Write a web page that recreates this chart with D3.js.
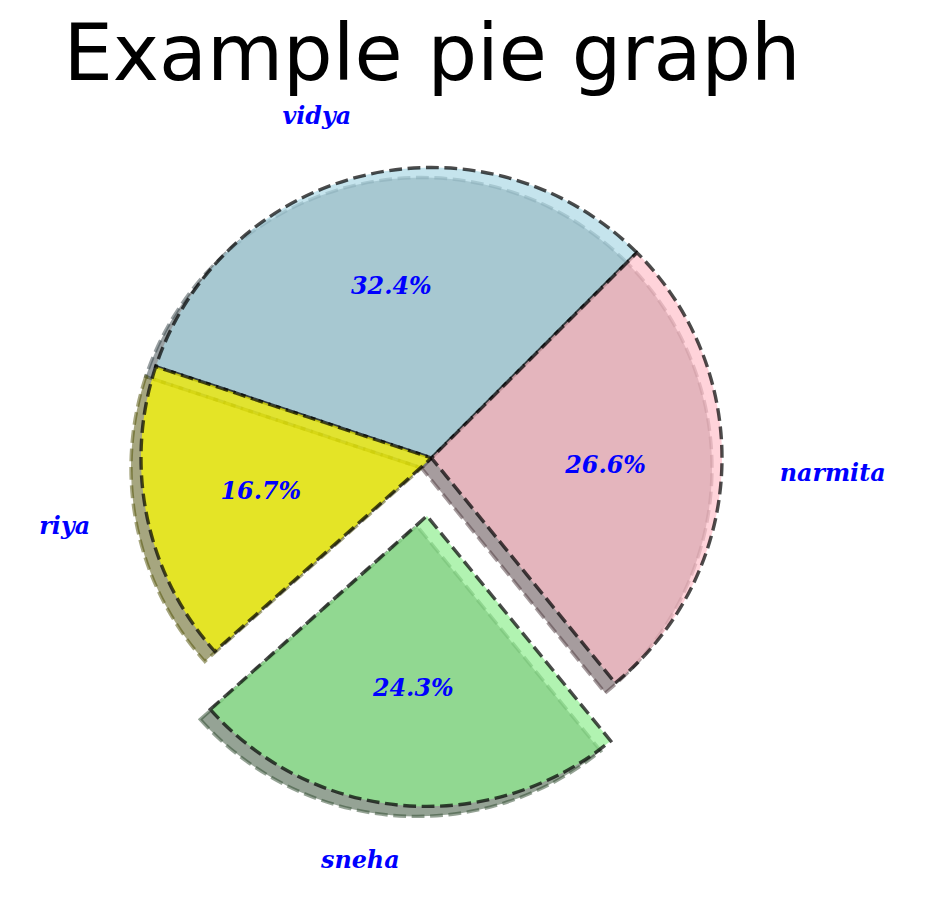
<!DOCTYPE html>
<html>
<head>
<meta charset="utf-8">
<script src="https://cdn.jsdelivr.net/npm/d3@7"></script>
<style>
  html, body { margin: 0; padding: 0; background: #ffffff; }
  svg { display: block; }
</style>
</head>
<body>
<svg id="chart" width="937" height="909"></svg>
<script>
// ---- data ----
const title = "Example pie graph";
const labels = ["vidya", "riya", "sneha", "narmita"];
const values = [32.4, 16.7, 24.3, 26.6];
const colors = ["lightblue", "yellow", "lightgreen", "pink"];
const explode = [0, 0, 0.2, 0];

// ---- layout ----
const W = 937, H = 909;
const cx = 431.5, cy = 458, R = 290.5;
const labelDistance = 1.2, pctDistance = 0.6;
const shadowDx = -10, shadowDy = 10;
const lw = 3.4;
const dash = "12.8,5.6";

const svg = d3.select("#chart");
svg.append("rect").attr("width", W).attr("height", H).attr("fill", "#fff");

const data = labels.map((l, i) => ({ label: l, value: values[i], color: colors[i], explode: explode[i] }));
const total = d3.sum(values);

const pie = d3.pie().sort(null).value(d => d.value)
  .startAngle(Math.PI / 4).endAngle(Math.PI / 4 - 2 * Math.PI);
const arcs = pie(data);
const arc = d3.arc().innerRadius(0).outerRadius(R);

function offset(d, dist) {
  const m = (d.startAngle + d.endAngle) / 2;
  return [Math.sin(m) * R * dist, -Math.cos(m) * R * dist];
}

const g = svg.append("g").attr("transform", `translate(${cx},${cy})`);

// shadows (below all wedges)
const shadowG = g.append("g");
arcs.forEach(d => {
  const [ex, ey] = offset(d, d.data.explode);
  const c = d3.rgb(d.data.color);
  const sc = d3.rgb(c.r * 0.3, c.g * 0.3, c.b * 0.3);
  shadowG.append("path")
    .attr("d", arc(d))
    .attr("transform", `translate(${ex + shadowDx},${ey + shadowDy})`)
    .attr("fill", sc.formatHex())
    .attr("fill-opacity", 0.5)
    .attr("stroke", sc.formatHex())
    .attr("stroke-opacity", 0.5)
    .attr("stroke-width", lw)
    .attr("stroke-dasharray", dash)
    .attr("stroke-linejoin", "miter");
});

// wedges
const wedgeG = g.append("g");
arcs.forEach(d => {
  const [ex, ey] = offset(d, d.data.explode);
  wedgeG.append("path")
    .attr("d", arc(d))
    .attr("transform", `translate(${ex},${ey})`)
    .attr("fill", d.data.color)
    .attr("fill-opacity", 0.7)
    .attr("stroke", "#000")
    .attr("stroke-opacity", 0.7)
    .attr("stroke-width", lw)
    .attr("stroke-dasharray", dash)
    .attr("stroke-linejoin", "miter");
});

// labels
const textG = g.append("g")
  .attr("font-family", "'DejaVu Serif', serif")
  .attr("font-weight", "bold")
  .attr("font-style", "italic")
  .attr("font-size", 23.8)
  .attr("fill", "blue");

arcs.forEach(d => {
  const [lx, ly] = offset(d, d.data.explode + labelDistance);
  textG.append("text")
    .attr("x", lx).attr("y", ly - 3)
    .attr("text-anchor", lx > 0 ? "start" : "end")
    .attr("dominant-baseline", "central")
    .text(d.data.label);
  const [px, py] = offset(d, d.data.explode + pctDistance);
  textG.append("text")
    .attr("x", px).attr("y", py - 2)
    .attr("text-anchor", "middle")
    .attr("dominant-baseline", "central")
    .text((d.data.value / total * 100).toFixed(1) + "%");
});

// title
svg.append("text")
  .attr("x", 432).attr("y", 80)
  .attr("text-anchor", "middle")
  .attr("font-family", "'DejaVu Sans', sans-serif")
  .attr("font-size", 78.2)
  .attr("fill", "#000")
  .text(title);
</script>
</body>
</html>
